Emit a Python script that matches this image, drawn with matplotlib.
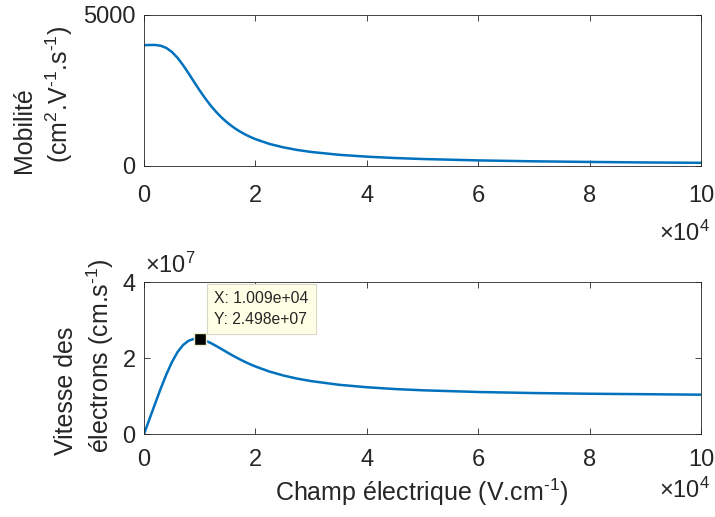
import matplotlib
matplotlib.use('Agg')
import matplotlib.pyplot as plt
from matplotlib.ticker import FuncFormatter

plt.rcParams['font.family'] = ['Liberation Sans', 'DejaVu Sans']
plt.rcParams['mathtext.fontset'] = 'custom'
plt.rcParams['mathtext.rm'] = 'Liberation Sans'
plt.rcParams['mathtext.it'] = 'Liberation Sans:italic'

# champ electrique (V/cm)
champ = [0, 1000, 2000, 3000, 4000, 5000, 6000, 7000, 8000, 9000, 10000,
         11000, 12000, 13000, 14000, 15000, 16000, 17000, 18000, 19000, 20000,
         22500, 25000, 27500, 30000, 35000, 40000, 45000, 50000,
         60000, 70000, 80000, 90000, 100000]
# mobilite (cm2/V/s)
mobilite = [4000, 4006, 4008, 3982, 3910, 3778, 3586, 3343, 3069, 2782, 2500,
            2235, 1994, 1780, 1592, 1429, 1287, 1165, 1060, 968, 889,
            731, 617, 530, 464, 370, 308, 263, 230,
            184, 154, 133, 116, 104]
# vitesse des electrons (cm/s)
vitesse = [0, 0.401e7, 0.802e7, 1.195e7, 1.564e7, 1.889e7, 2.152e7, 2.340e7,
           2.455e7, 2.504e7, 2.500e7, 2.459e7, 2.393e7, 2.314e7, 2.229e7,
           2.143e7, 2.059e7, 1.981e7, 1.908e7, 1.839e7, 1.778e7,
           1.645e7, 1.541e7, 1.458e7, 1.393e7, 1.296e7, 1.231e7, 1.184e7,
           1.151e7, 1.106e7, 1.078e7, 1.060e7, 1.048e7, 1.035e7]
tip_x = 1.009e4
tip_y = 2.498e7

blue = '#0072BD'
dark = '#262626'
fs = 17
fl = 18
W, H = 715.0, 517.0

fig = plt.figure(figsize=(7.15, 5.17), dpi=100)
ax1 = fig.add_axes([0.2014, 0.679, 0.7790, 0.292])
ax2 = fig.add_axes([0.2014, 0.1605, 0.7790, 0.294])

xfmt = FuncFormatter(lambda v, p: '%g' % (v / 1e4))

for ax in (ax1, ax2):
    ax.set_xlim(0, 1e5)
    ax.set_xticks([0, 2e4, 4e4, 6e4, 8e4, 1e5])
    ax.xaxis.set_major_formatter(xfmt)
    ax.tick_params(direction='in', top=True, right=True, labelsize=fs,
                   colors=dark, length=4, width=0.6)
    ax.tick_params(axis='y', pad=6)
    for s in ax.spines.values():
        s.set_color(dark)
        s.set_linewidth(0.6)
ax1.tick_params(axis='x', pad=13.5)
ax2.tick_params(axis='x', pad=10.5)

ax1.plot(champ, mobilite, color=blue, lw=1.8)
ax1.set_ylim(0, 5000)
ax1.set_yticks([0, 5000])

ax2.plot(champ, vitesse, color=blue, lw=1.8)
ax2.set_ylim(0, 4e7)
ax2.set_yticks([0, 2e7, 4e7])
ax2.yaxis.set_major_formatter(FuncFormatter(lambda v, p: '%g' % (v / 1e7)))

# y labels (two lines each, starting at the bottom)
def ylab(txt, x, y):
    fig.text(x / W, 1 - y / H, txt, rotation=90, rotation_mode='anchor',
             ha='left', va='center', fontsize=fl, color=dark)

ylab('Mobilité', 24, 173)
ylab(r'(cm$^{2}$.V$^{\text{-}1}$.s$^{\text{-}1}$)', 59, 163)
ylab('Vitesse des', 66, 455)
ylab(r'électrons (cm.s$^{\text{-}1}$)', 100, 453)

fig.text(422 / W, 1 - 492 / H, r'Champ électrique (V.cm$^{\text{-}1}$)',
         ha='center', va='center', fontsize=fl, color=dark)

# exponent labels
fig.text(710 / W, 1 - 233 / H, r'$\times$10$^{4}$', ha='right', va='center',
         fontsize=fs, color=dark)
fig.text(710 / W, 1 - 490 / H, r'$\times$10$^{4}$', ha='right', va='center',
         fontsize=fs, color=dark)
fig.text(145 / W, 1 - 265 / H, r'$\times$10$^{7}$', ha='left', va='center',
         fontsize=fs, color=dark)

# data tip
ax2.plot([tip_x], [tip_y], marker='s', ms=9, color='black',
         markeredgecolor='#f0f0d0', markeredgewidth=1, zorder=5)
ax2.annotate('X: %.3e\nY: %.3e' % (tip_x, tip_y), xy=(tip_x, tip_y),
             xytext=(10, 9), textcoords='offset points', fontsize=11.3,
             color=dark, va='bottom', ha='left', linespacing=1.45,
             bbox=dict(boxstyle='square,pad=0.45', fc='#FFFFE6',
                       ec='#d8d8c8', lw=0.8))

fig.savefig('out.png', dpi=100)
